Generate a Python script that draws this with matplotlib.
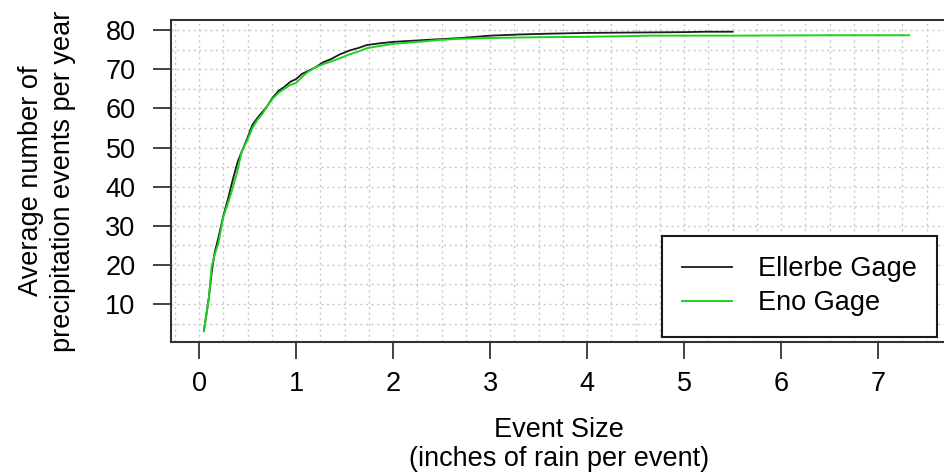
import matplotlib
matplotlib.use("Agg")
import matplotlib.pyplot as plt
from matplotlib.ticker import MultipleLocator

plt.rcParams['font.family'] = ['Liberation Sans', 'DejaVu Sans']

# cumulative event counts (event size in inches)
ellerbe_x = [0.05, 0.08, 0.10, 0.13, 0.16, 0.20, 0.25, 0.30, 0.35, 0.40, 0.45,
             0.50, 0.55, 0.60, 0.65, 0.70, 0.76, 0.82, 0.88, 0.94, 1.00, 1.06,
             1.11, 1.20, 1.28, 1.36, 1.45, 1.55, 1.65, 1.73, 1.85, 2.00, 2.20,
             2.48, 2.70, 3.00, 3.30, 3.60, 4.00, 4.50, 5.00, 5.23, 5.50]
ellerbe_y = [3.3, 8.0, 11.5, 18.0, 23.0, 27.0, 32.5, 37.0, 42.0, 46.5, 49.5,
             52.5, 55.8, 57.5, 59.0, 60.5, 62.8, 64.5, 65.5, 66.8, 67.5, 68.8,
             69.4, 70.5, 71.8, 72.6, 73.8, 74.8, 75.5, 76.2, 76.6, 77.0, 77.3,
             77.7, 78.0, 78.6, 78.9, 79.1, 79.3, 79.4, 79.5, 79.6, 79.6]

eno_x = [0.05, 0.08, 0.10, 0.13, 0.16, 0.20, 0.25, 0.32, 0.39, 0.44, 0.50,
         0.55, 0.60, 0.65, 0.70, 0.76, 0.82, 0.88, 0.94, 1.00, 1.06, 1.12,
         1.20, 1.28, 1.36, 1.45, 1.55, 1.65, 1.73, 1.85, 2.00, 2.20, 2.48,
         2.70, 3.00, 3.50, 4.00, 4.67, 5.50, 6.47, 7.32]
eno_y = [3.0, 8.0, 11.0, 19.5, 22.5, 25.6, 32.2, 37.4, 43.4, 49.0, 52.0,
         55.0, 57.0, 58.5, 60.5, 62.5, 64.0, 65.0, 66.0, 66.5, 68.0, 69.3,
         70.5, 71.3, 72.0, 72.8, 73.8, 74.6, 75.4, 75.9, 76.5, 76.9, 77.5,
         77.8, 78.0, 78.2, 78.3, 78.6, 78.6, 78.7, 78.7]

labels = ['Ellerbe Gage', 'Eno Gage']
x_ticks = [0, 1, 2, 3, 4, 5, 6, 7]
y_ticks = [10, 20, 30, 40, 50, 60, 70, 80]

fs = 19.5

fig = plt.figure(figsize=(9.44, 4.74), dpi=100)
ax = fig.add_axes([171/944, (474-342)/474, (947-171)/944, (342-20)/474])

ax.plot(ellerbe_x, ellerbe_y, color='#1a1a1a', lw=1.3, label=labels[0])
ax.plot(eno_x, eno_y, color='#1fd21f', lw=1.4, label=labels[1])

ax.set_xlim(-0.289, 7.71)
ax.set_ylim(0.28, 82.6)
ax.set_xticks(x_ticks)
ax.set_yticks(y_ticks)
ax.xaxis.set_minor_locator(MultipleLocator(0.25))
ax.yaxis.set_minor_locator(MultipleLocator(5))
ax.grid(which='both', color='#c8c8c8', lw=1.0, linestyle=(0, (1.5, 2.5)))
ax.set_axisbelow(True)

ax.tick_params(which='minor', length=0)
ax.tick_params(axis='x', which='major', length=12.2, width=1.3, pad=9,
               labelsize=fs, color='#333333')
ax.tick_params(axis='y', which='major', length=13, width=1.3, pad=12.5,
               labelsize=fs, color='#333333')

for side in ['left', 'top', 'bottom']:
    ax.spines[side].set_color('#333333')
    ax.spines[side].set_linewidth(1.5)
ax.spines['right'].set_visible(False)

ax.set_xlabel('Event Size\n(inches of rain per event)', fontsize=fs,
              linespacing=1.15, labelpad=14)
ax.set_ylabel('Average number of\nprecipitation events per year', fontsize=fs,
              linespacing=1.3, labelpad=21)

leg = ax.legend(loc='upper left', fontsize=fs, frameon=True, fancybox=False,
                bbox_to_anchor=((662-171)/776, (342-236)/322),
                borderaxespad=0, borderpad=0.75, labelspacing=0.3,
                handlelength=1.85, handletextpad=0.95)
leg.get_frame().set_edgecolor('#1a1a1a')
leg.get_frame().set_linewidth(1.5)
leg.get_frame().set_alpha(1)

fig.savefig('out.png', dpi=100)
